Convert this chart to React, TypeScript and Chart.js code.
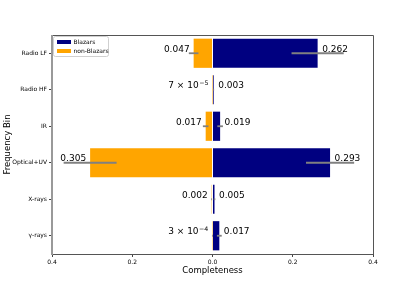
import { useEffect, useRef } from 'react';
import { Chart, registerables } from 'chart.js';

Chart.register(...registerables);

const categories = ['Radio LF', 'Radio HF', 'IR', 'Optical+UV', 'X-rays', 'γ-rays'];
const blazarValues = [0.262, 0.003, 0.019, 0.293, 0.005, 0.017];
const blazarErrors = [0.065, 0.001, 0.007, 0.06, 0.002, 0.006];
const nonBlazarValues = [0.047, 0.00007, 0.017, 0.305, 0.002, 0.0003];
const nonBlazarErrors = [0.012, 0.0001, 0.007, 0.066, 0.001, 0.001];
const blazarLabels = ['0.262', '0.003', '0.019', '0.293', '0.005', '0.017'];
const nonBlazarLabels = ['0.047', '7 × 10^−5', '0.017', '0.305', '0.002', '3 × 10^−4'];
const seriesNames = ['Blazars', 'non-Blazars'];
const xTicks = [-0.4, -0.2, 0, 0.2, 0.4];

const NAVY = '#000080';
const ORANGE = '#FFA500';
const FONT = '"DejaVu Sans", sans-serif';

function drawLabel(ctx: CanvasRenderingContext2D, text: string, x: number, y: number, align: 'left' | 'right') {
  const parts = text.split('^');
  const base = parts[0];
  const exp = parts[1] || '';
  ctx.font = `9px ${FONT}`;
  const wBase = ctx.measureText(base).width;
  ctx.font = `6.3px ${FONT}`;
  const wExp = exp ? ctx.measureText(exp).width + 0.5 : 0;
  const total = wBase + wExp;
  let sx = align === 'left' ? x : x - total;
  ctx.textAlign = 'left';
  ctx.textBaseline = 'alphabetic';
  ctx.fillStyle = '#000';
  ctx.font = `9px ${FONT}`;
  ctx.fillText(base, sx, y);
  if (exp) {
    ctx.font = `6.3px ${FONT}`;
    ctx.fillText(exp, sx + wBase + 0.5, y - 3.6);
  }
}

const overlayPlugin = {
  id: 'overlay',
  afterDatasetsDraw(chart: any) {
    const { ctx, chartArea } = chart;
    const xs = chart.scales.x;
    const ys = chart.scales.y;
    ctx.save();
    // error bars
    ctx.strokeStyle = '#808080';
    ctx.lineWidth = 1.8;
    categories.forEach((_, i) => {
      const y = ys.getPixelForValue(i);
      const bv = blazarValues[i], be = blazarErrors[i];
      const nv = -nonBlazarValues[i], ne = nonBlazarErrors[i];
      ctx.beginPath();
      ctx.moveTo(xs.getPixelForValue(bv - be), y);
      ctx.lineTo(xs.getPixelForValue(bv + be), y);
      ctx.stroke();
      ctx.beginPath();
      ctx.moveTo(xs.getPixelForValue(nv - ne), y);
      ctx.lineTo(xs.getPixelForValue(nv + ne), y);
      ctx.stroke();
    });
    // value labels
    categories.forEach((_, i) => {
      const y = ys.getPixelForValue(i) - 1.5;
      drawLabel(ctx, blazarLabels[i], xs.getPixelForValue(blazarValues[i]) + 4.5, y, 'left');
      drawLabel(ctx, nonBlazarLabels[i], xs.getPixelForValue(-nonBlazarValues[i]) - 4, y, 'right');
    });
    // spines
    const { left, right, top, bottom } = chartArea;
    ctx.strokeStyle = '#555';
    ctx.lineWidth = 1;
    ctx.beginPath();
    ctx.moveTo(left, top + 0.5);
    ctx.lineTo(right + 0.5, top + 0.5);
    ctx.lineTo(right + 0.5, bottom + 0.5);
    ctx.lineTo(left, bottom + 0.5);
    ctx.stroke();
    ctx.strokeStyle = '#999';
    ctx.lineWidth = 2;
    ctx.beginPath();
    ctx.moveTo(left, top);
    ctx.lineTo(left, bottom + 1);
    ctx.stroke();
    // legend
    const lx = 53.5, ly = 36.5, lw = 55, lh = 20;
    ctx.fillStyle = 'rgba(255,255,255,0.9)';
    ctx.strokeStyle = '#d0d0d0';
    ctx.lineWidth = 1;
    ctx.beginPath();
    if ((ctx as any).roundRect) (ctx as any).roundRect(lx, ly, lw, lh, 2);
    else ctx.rect(lx, ly, lw, lh);
    ctx.fill();
    ctx.stroke();
    const colors = [NAVY, ORANGE];
    ctx.font = `6px ${FONT}`;
    ctx.textBaseline = 'middle';
    ctx.textAlign = 'left';
    seriesNames.forEach((name, k) => {
      const cy = 42 + k * 9;
      ctx.fillStyle = colors[k];
      ctx.fillRect(57, cy - 2, 14, 4);
      ctx.fillStyle = '#000';
      ctx.fillText(name, 73.5, cy + 0.5);
    });
    ctx.restore();
  },
};

export default function App() {
  const ref = useRef<HTMLCanvasElement>(null);
  useEffect(() => {
    if (!ref.current) return;
    const chart = new Chart(ref.current, {
      type: 'bar',
      data: {
        labels: categories,
        datasets: [
          {
            label: seriesNames[0],
            data: blazarValues,
            backgroundColor: NAVY,
            borderWidth: 0,
            barPercentage: 0.8,
            categoryPercentage: 1,
          },
          {
            label: seriesNames[1],
            data: nonBlazarValues.map((v) => -v),
            backgroundColor: ORANGE,
            borderWidth: 0,
            barPercentage: 0.8,
            categoryPercentage: 1,
          },
        ],
      },
      options: {
        indexAxis: 'y',
        responsive: false,
        animation: false,
        layout: { padding: { left: 0, right: 42, top: 35, bottom: 0 } },
        plugins: {
          legend: { display: false },
          tooltip: { enabled: false },
        },
        scales: {
          x: {
            stacked: true,
            min: -0.4,
            max: 0.4,
            afterBuildTicks: (scale: any) => {
              scale.ticks = xTicks.map((v) => ({ value: v }));
            },
            afterFit: (scale: any) => {
              scale.height = 37;
            },
            ticks: {
              font: { family: FONT, size: 6 },
              color: '#000',
              padding: 2,
              maxRotation: 0,
              callback: (v: any) => Math.abs(Number(v)).toFixed(1),
            },
            grid: { drawOnChartArea: false, drawTicks: true, tickLength: 3, color: '#444' },
            border: { display: false },
            title: {
              display: true,
              text: 'Completeness',
              font: { family: FONT, size: 8.5 },
              color: '#000',
              padding: { top: 0, bottom: 15 },
            },
          },
          y: {
            stacked: true,
            afterFit: (scale: any) => {
              scale.width = 52;
            },
            ticks: {
              font: { family: FONT, size: 6 },
              color: '#000',
              padding: 2,
            },
            grid: { drawOnChartArea: false, drawTicks: true, tickLength: 3, color: '#444', offset: false },
            border: { display: false },
            title: {
              display: true,
              text: 'Frequency Bin',
              font: { family: FONT, size: 8.5 },
              color: '#000',
              padding: { top: 3, bottom: 0 },
            },
          },
        },
      },
      plugins: [overlayPlugin],
    });
    return () => chart.destroy();
  }, []);
  return (
    <div style={{ position: 'absolute', left: 0, top: 0, width: 415, height: 291, background: '#fff' }}>
      <canvas ref={ref} width={415} height={291} style={{ display: 'block' }} />
    </div>
  );
}
